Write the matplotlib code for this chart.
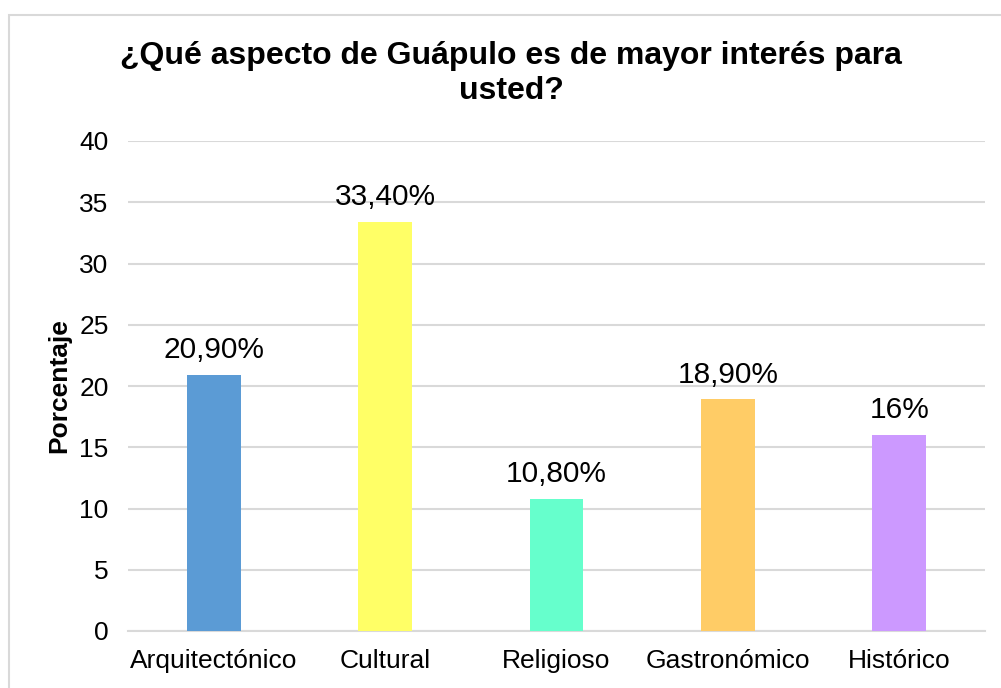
import matplotlib
matplotlib.use("Agg")
import matplotlib.pyplot as plt
from matplotlib.patches import Rectangle

plt.rcParams['font.family'] = ['Liberation Sans', 'DejaVu Sans']

categories = ['Arquitectónico', 'Cultural', 'Religioso', 'Gastronómico', 'Histórico']
values = [20.9, 33.4, 10.8, 18.9, 16]
labels = ['20,90%', '33,40%', '10,80%', '18,90%', '16%']
colors = ['#5B9BD5', '#FFFF66', '#66FFCC', '#FFCC66', '#CC99FF']

W, H = 1001, 688
fig = plt.figure(figsize=(W / 100, H / 100), dpi=100)
ax = fig.add_axes([128 / W, 1 - 631 / H, (985 - 128) / W, (631 - 141) / H])

x = range(len(categories))
bars = ax.bar(x, values, width=0.315, color=colors, zorder=3)
for b, lab in zip(bars, labels):
    ax.annotate(lab, (b.get_x() + b.get_width() / 2, b.get_height()),
                xytext=(0, 12), textcoords='offset points',
                ha='center', va='baseline', fontsize=21.5, color='#000000')

ax.set_xlim(-0.5, len(categories) - 0.5)
ax.set_ylim(0, 40)
ax.set_yticks(range(0, 41, 5))
ax.set_xticks(list(x))
ax.set_xticklabels(categories)
ax.tick_params(axis='both', length=0, labelsize=19, colors='#000000')
ax.tick_params(axis='y', pad=14)
ax.tick_params(axis='x', pad=13)
ax.grid(axis='y', color='#D9D9D9', linewidth=1.5, zorder=0)
for s in ['top', 'right', 'left']:
    ax.spines[s].set_visible(False)
ax.spines['bottom'].set_color('#D9D9D9')
ax.spines['bottom'].set_linewidth(1.5)

ax.set_ylabel('Porcentaje', fontsize=19, fontweight='bold', labelpad=6)

fig.text(511 / W, 1 - 41 / H, '¿Qué aspecto de Guápulo es de mayor interés para\nusted?',
         ha='center', va='top', fontsize=23, fontweight='bold', linespacing=1.2)

fig.patches.append(Rectangle((9 / W, -0.1), 1.2, 1 - 15 / H + 0.1, transform=fig.transFigure,
                             fill=False, edgecolor='#D9D9D9', linewidth=1.5))

fig.savefig('out.png', dpi=100)
